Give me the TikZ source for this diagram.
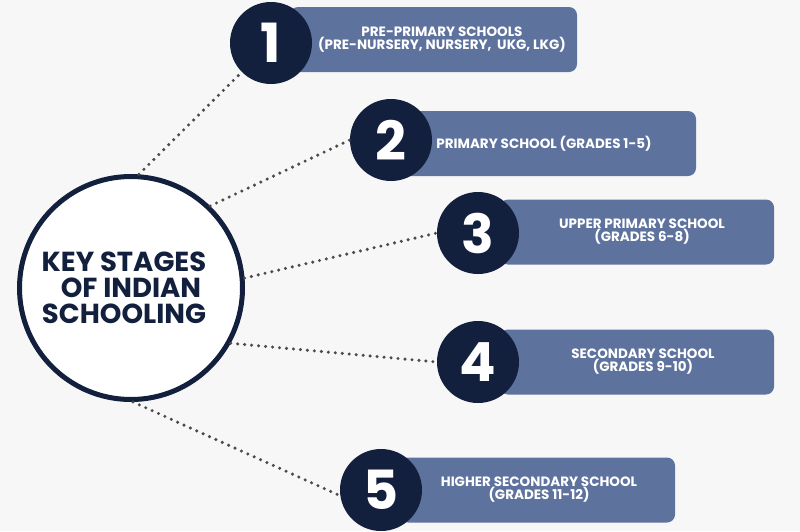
\documentclass[tikz,border=0pt]{standalone}
\usepackage{fontspec}
\setmainfont{Poppins}
\usepackage{xcolor}
\usepackage{tikz}
\usetikzlibrary{positioning}
\definecolor{navy}{HTML}{12203D}
\definecolor{slate}{HTML}{5E729E}
\definecolor{paper}{HTML}{F7F7F7}
\definecolor{dotgray}{HTML}{4A4A4A}
\newcommand{\nudge}[1]{\hspace*{#1pt}}

\begin{document}
\begin{tikzpicture}[
  x=1pt,y=-1pt,
  every node/.style={align=center},
  hub/.style={circle,draw=navy,line width=5pt,fill=white,minimum size=223pt,
              inner sep=0pt,text=navy,font=\fontsize{27.5}{26}\selectfont\bfseries},
  stage/.style={circle,fill=navy,minimum size=82pt,inner sep=0pt,text=white,
                font=\fontsize{54}{54}\selectfont\bfseries},
  band/.style={fill=slate,rounded corners=8pt,minimum height=65pt,inner sep=0pt,
               text=white,font=\fontsize{13.5}{13}\selectfont\bfseries},
  link/.style={draw=dotgray,line width=3.4pt,line cap=round,
               dash pattern=on 0pt off 7pt}
]
\fill[paper] (0,0) rectangle (800,531);
\useasboundingbox (0,0) rectangle (800,531);

\node[hub] (hub) at (131,288) {KEY STAGES\nudge{14}\\OF INDIAN\nudge{14}\\SCHOOLING\nudge{14}};

\node[band,minimum width=287pt] (b1) at (433.5,39.5) {\nudge{17}PRE-PRIMARY SCHOOLS\\\nudge{17}(PRE-NURSERY, NURSERY,\ \ UKG, LKG)};
\node[band,minimum width=296pt] (b2) at (548,143.5) {\hspace*{-8pt}PRIMARY SCHOOL (GRADES 1-5)};
\node[band,minimum width=274pt] (b3) at (637,232) {\nudge{10}UPPER PRIMARY SCHOOL\\\nudge{10}(GRADES 6-8)};
\node[band,minimum width=274pt] (b4) at (637,362) {\nudge{12}SECONDARY SCHOOL\\\nudge{12}(GRADES 9-10)};
\node[band,minimum width=275pt] (b5) at (537.5,490) {\nudge{3}HIGHER SECONDARY SCHOOL\\\nudge{3}(GRADES 11-12)};

\node[stage] (n1) at (271,43)  {1};
\node[stage] (n2) at (391,140) {2};
\node[stage] (n3) at (478,233) {3};
\node[stage] (n4) at (478,362) {4};
\node[stage] (n5) at (381,490) {5};

\draw[link] (hub.86)  -- (n1);
\draw[link] (hub.46)  -- (n2.west);
\draw[link] (hub.5)   -- (n3.west);
\draw[link] (hub.-29) -- (n4.west);
\draw[link] (hub.-89) -- (n5.188);
\end{tikzpicture}
\end{document}
